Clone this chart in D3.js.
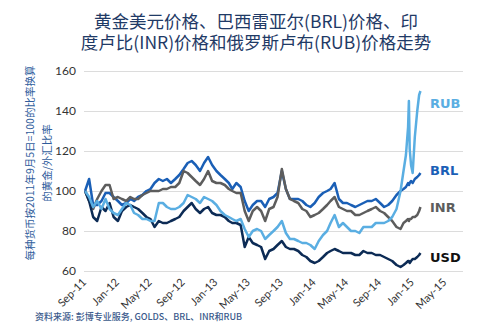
<!DOCTYPE html>
<html><head><meta charset="utf-8">
<script src="https://cdn.jsdelivr.net/npm/d3@7/dist/d3.min.js"></script>
<style>
html,body{margin:0;padding:0;background:#fff;}
svg{display:block;}
</style></head>
<body><svg id="c" width="499" height="328"></svg>
<script>
const titleLines = ["黄金美元价格、巴西雷亚尔(BRL)价格、印", "度卢比(INR)价格和俄罗斯卢布(RUB)价格走势"];
const yTitleLines = ["每种货币按2011年9月5日=100的比率换算", "的黄金/外汇比率"];
const sourceText = "资料来源: 彭博专业服务, GOLDS、BRL、INR和RUB";
const yTicks = [60, 80, 100, 120, 140, 160];
const xTickLabels = ["Sep-11","Jan-12","May-12","Sep-12","Jan-13","May-13","Sep-13","Jan-14","May-14","Sep-14","Jan-15","May-15"];

const dates = [
"2011-09-05","2011-09-20","2011-10-05","2011-10-20","2011-11-05","2011-11-20","2011-12-05","2011-12-20",
"2012-01-05","2012-01-20","2012-02-05","2012-02-20","2012-03-05","2012-03-20","2012-04-05","2012-04-20",
"2012-05-05","2012-05-20","2012-06-05","2012-06-20","2012-07-05","2012-07-20","2012-08-05","2012-08-20",
"2012-09-05","2012-09-20","2012-10-05","2012-10-20","2012-11-05","2012-11-20","2012-12-05","2012-12-20",
"2013-01-05","2013-01-20","2013-02-05","2013-02-20","2013-03-05","2013-03-20","2013-04-05","2013-04-20",
"2013-05-05","2013-05-20","2013-06-05","2013-06-20","2013-07-05","2013-07-20","2013-08-05","2013-08-20",
"2013-09-05","2013-09-20","2013-10-05","2013-10-20","2013-11-05","2013-11-20","2013-12-05","2013-12-20",
"2014-01-05","2014-01-20","2014-02-05","2014-02-20","2014-03-05","2014-03-20","2014-04-05","2014-04-20",
"2014-05-05","2014-05-20","2014-06-05","2014-06-20","2014-07-05","2014-07-20","2014-08-05","2014-08-20",
"2014-09-05","2014-09-20","2014-10-05","2014-10-20","2014-11-05",
"2014-11-20","2014-12-01","2014-12-10","2014-12-18","2014-12-21","2014-12-24","2014-12-29",
"2015-01-04","2015-01-12","2015-01-21","2015-01-28","2015-02-02"];

const usd = [100,95,87,85,92,90,94,87,85,90, 92,93,92,91,89,87,86,82,85,84, 84,85,86,87,90,92,94,91,89,91,
  92,89,88,88,87,85,84,84,83,72, 77,74,73,72,66,70,71,73,75,72, 71,71,70,68,67,65,64,65,67,69,
  70,71,70,69,69,69,68,68,70,69, 69,68,68,67,66,65,63, 62,63,64,65,65,64,65,66,66,67,68,69];
const brl = [100,106,93,93,95,99,99,97,95,93, 94,96,95,97,98,100,101,104,106,105, 106,104,106,108,111,114,115,113,110,114,
  117,113,110,108,106,104,101,104,102,95, 90,93,95,95,92,96,97,99,110,101, 96,96,96,95,93,92,94,97,99,100,
  101,104,96,94,94,93,92,93,94,95, 95,96,94,92,93,95,98, 100,101,102,104,103,104,105,104,106,107,108,109];
const inr = [100,95,91,96,100,103,103,96,97,96, 95,97,96,96,98,99,100,100,100,101, 101,102,102,104,110,109,107,105,103,106,
  110,105,104,104,103,101,100,99,99,90, 85,90,92,90,85,91,92,97,111,101, 96,95,94,91,90,87,88,89,91,93,
  95,97,92,91,90,90,88,88,89,90, 91,92,90,89,87,85,82, 81,84,85,86,85,86,86,87,87,88,90,92];
const rub = [100,97,92,95,91,96,91,89,88,91, 94,93,89,88,86,86,85,85,94,94, 92,91,91,92,94,98,97,96,94,97,
  96,95,93,90,88,87,86,85,86,81, 77,80,81,80,76,78,80,82,85,79, 76,76,75,74,74,73,71,75,78,80,
  84,88,82,84,82,80,80,79,82,82, 82,84,84,84,85,87,91, 100,110,118,132,145,121,113,109,127,140,148,150];

const seriesNames = ["BRL", "INR", "USD", "RUB"];
const seriesValues = {BRL: brl, INR: inr, USD: usd, RUB: rub};
const lineColors = {BRL: "#1a5fb6", INR: "#5d5d5d", USD: "#0c2b55", RUB: "#5aaee2"};
const labelColors = {BRL: "#1a5fb6", INR: "#5d5d5d", USD: "#111111", RUB: "#5aaee2"};
const labelAt = {RUB: 144, BRL: 110.5, INR: 92, USD: 67};

const svg = d3.select("#c");
const parse = d3.timeParse("%Y-%m-%d");
const parseTick = d3.timeParse("%b-%y");
const x = d3.scaleTime().domain([parse("2011-09-01"), parse("2015-07-10")]).range([84, 463]);
const y = d3.scaleLinear().domain([60, 160]).range([271, 71]);

// title (one text, two lines)
const title = svg.append("text")
  .attr("text-anchor", "middle")
  .attr("font-family", "'Noto Sans CJK SC', sans-serif")
  .attr("font-size", 17.5).attr("font-weight", 400)
  .attr("fill", "#1f3a66");
title.selectAll("tspan").data(titleLines).join("tspan")
  .attr("x", 256).attr("y", (d,i) => 28 + i*20.5).text(d => d);

// y title
svg.append("g").selectAll("text").data(yTitleLines).join("text")
  .attr("transform", (d,i) => `translate(${29 + i*17},163) rotate(-90)`)
  .attr("text-anchor", "middle").attr("dominant-baseline", "central")
  .attr("font-family", "'Noto Sans CJK SC', sans-serif")
  .attr("font-size", 10.5).attr("fill", "#2f5d9c").text(d => d);

// gridlines
svg.append("g").selectAll("line").data(yTicks).join("line")
  .attr("x1", 84).attr("x2", 463)
  .attr("y1", d => y(d) + 0.5).attr("y2", d => y(d) + 0.5)
  .attr("stroke", "#dcdcdc").attr("stroke-width", 1);

// y tick labels
svg.append("g").selectAll("text").data(yTicks).join("text")
  .attr("x", 76).attr("y", d => y(d)).attr("dy", "0.36em")
  .attr("text-anchor", "end")
  .attr("font-family", "Lato, sans-serif").attr("font-size", 12)
  .attr("fill", "#333").text(d => d);

// x tick labels
svg.append("g").selectAll("text").data(xTickLabels).join("text")
  .attr("transform", d => `translate(${x(parseTick(d)) + 3},283) rotate(-45)`)
  .attr("text-anchor", "end")
  .attr("font-family", "Lato, sans-serif").attr("font-size", 11)
  .attr("fill", "#333").text(d => d);

// lines
const line = d3.line().x((d,i) => x(parse(dates[i]))).y(d => y(d)).curve(d3.curveLinear);
svg.append("g").selectAll("path").data(seriesNames).join("path")
  .attr("d", n => line(seriesValues[n]))
  .attr("fill", "none").attr("stroke", n => lineColors[n])
  .attr("stroke-width", 2.5).attr("stroke-linejoin", "round");

// series labels
svg.append("g").selectAll("text").data(["RUB","BRL","INR","USD"]).join("text")
  .attr("x", 430).attr("y", n => y(labelAt[n])).attr("dy", "0.36em")
  .attr("font-family", "'DejaVu Sans', sans-serif").attr("font-weight", "bold")
  .attr("font-size", 13).attr("fill", n => labelColors[n]).text(n => n);

// source
svg.append("text").attr("x", 35).attr("y", 320)
  .attr("font-family", "'Noto Sans CJK SC', sans-serif").attr("font-size", 9)
  .attr("font-weight", 500).attr("fill", "#3a5a8c").text(sourceText);
</script></body></html>
